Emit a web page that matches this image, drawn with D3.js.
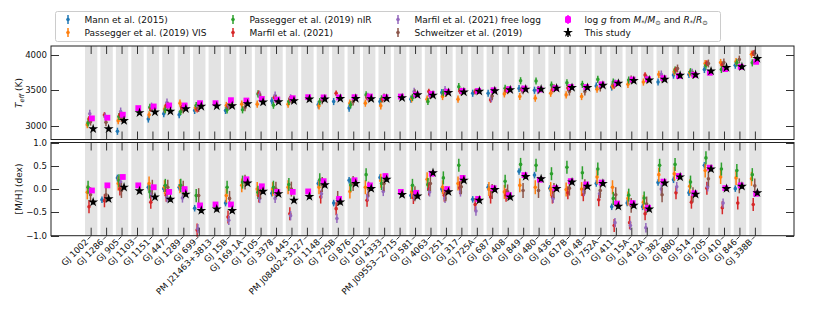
<!DOCTYPE html>
<html>
<head>
<meta charset="utf-8">
<script src="https://cdn.jsdelivr.net/npm/d3@7"></script>
<style>
  body { margin: 0; background: #fff; }
  text { font-family: "DejaVu Sans", sans-serif; fill: #111; }
</style>
</head>
<body>
<div id="plot"></div>
<script>
// stars, ordered as in the figure
const stars = ["GJ 1002","GJ 1286","GJ 905","GJ 1103","GJ 1151","GJ 447","GJ 1289","GJ 699","PM J21463+3813","GJ 15B",
  "GJ 169.1A","GJ 1105","GJ 3378","GJ 445","PM J08402+3127","GJ 1148","GJ 725B","GJ 876","GJ 1012","GJ 4333",
  "PM J09553\u22122715","GJ 581","GJ 4063","GJ 251","GJ 317","GJ 725A","GJ 687","GJ 408","GJ 849","GJ 480",
  "GJ 436","GJ 617B","GJ 48","GJ 752A","GJ 411","GJ 15A","GJ 412A","GJ 382","GJ 880","GJ 514",
  "GJ 205","GJ 410","GJ 846","GJ 338B"];

// Teff (K)
const teffMann = [null,null,2925,null,3097,3171,3157,3217,null,3217, null,null,3351,null,null,3296,3342,3250,null,3342,
  null,3375,null,3467,null,3458,3458,null,3525,3500, null,null,null,3560,3545,null,null,3615,3712,3720, 3791,null,3851,null];
const teffPVis = [3018,null,3074,null,3157,3236,3319,3250,null,3287, 3305,3305,null,3305,null,3282,null,3319,3319,3282,
  null,3380,3375,3412,3375,null,null,3449,3412,3389, 3458,3435,3412,3514,3560,3583,3615,3722,3760,3740, 3875,3889,3903,4004];
const teffPNir = [3042,null,3133,null,3260,3226,3204,3287,null,3226, 3226,3449,3290,3342,null,3342,null,3296,3435,3380,
  null,3400,3342,3467,3550,null,null,3528,3633,3630, 3573,3605,3583,3652,3615,3643,null,null,3782,3760, 3851,3791,3884,3884];
const teffMarfil = [3100,3153,3157,null,3240,3290,3260,3230,null,3280, null,3458,3400,3380,null,null,3458,null,3400,3370,
  null,null,3481,null,3490,3480,3365,3500,3510,null, 3510,3530,null,null,3560,null,3712,null,3790,null, 3880,3860,null,4020];
const teffMarfilFree = [3171,3130,3203,null,3272,3329,null,3280,null,3290, null,3435,3426,3389,null,null,null,null,3410,null,
  null,3481,3430,3504,null,null,3389,null,3510,3500, null,null,null,null,3597,null,null,3722,null,3745, null,null,null,null];
const teffSchw = [3060,3050,3110,null,3250,3280,3230,3250,null,3295, 3260,3400,3380,3370,null,3360,null,3340,3390,3400,
  null,3458,3435,3460,3480,null,3420,3500,3500,3505, 3528,3481,3481,3537,null,3650,3660,3660,3805,3717, 3875,3889,3930,4014];
const teffLogg = [3106,3115,3157,3250,3273,3287,3287,3319,3319,3361, 3356,3379,3370,3389,3403,3400,3400,3403,3412,3403,
  3412,3440,3450,3480,3490,3490,3500,3514,3525,3510, 3530,3545,3545,3583,3600,3650,3655,3670,3700,3715, 3745,3796,3828,3898];
const teffThis = [2958,2958,3074,3185,3194,3204,3240,3273,3278,3282, 3310,3333,3338,3351,3375,3375,3384,3384,3380,3384,
  3393,3435,3430,3467,3475,3485,3490,3505,3514,3514, 3528,3537,3537,3569,3597,3634,3643,3652,3708,3717, 3768,3819,3828,3944];

// [M/H] (dex)
const mhMann = [null,-0.23,0.24,null,0.04,0.01,0.04,-0.41,null,-0.30, null,null,-0.09,null,null,0.12,-0.30,0.19,null,0.25,
  null,-0.14,null,0.00,null,-0.22,0.04,null,0.38,0.30, 0.02,null,null,0.12,-0.38,-0.30,-0.38,0.14,0.20,-0.08, 0.51,null,0.01,null];
const mhPVis = [-0.07,null,0.12,null,0.12,0.04,0.06,null,null,-0.14, 0.08,0.00,0.00,0.04,null,0.04,null,-0.05,0.04,0.18,
  null,-0.06,0.21,0.04,0.12,null,0.00,-0.06,0.08,0.04, 0.00,-0.01,0.00,0.26,0.04,-0.20,-0.28,0.31,0.33,0.06, 0.40,0.26,0.24,0.22];
const mhPNir = [0.04,null,0.18,null,-0.06,0.08,0.08,-0.14,null,0.04, 0.15,-0.07,0.04,0.10,null,0.20,null,0.09,0.31,0.12,
  null,0.08,0.10,0.24,0.51,null,null,0.17,0.53,0.51, 0.33,0.47,0.35,0.43,-0.20,-0.13,-0.19,0.51,0.53,0.15, 0.67,0.43,0.40,0.31];
const mhMarfil = [-0.38,-0.25,0.00,null,-0.28,-0.13,null,-0.88,null,-0.60, null,-0.15,null,-0.53,null,-0.17,-0.42,null,-0.24,null,
  null,-0.18,0.00,-0.13,0.03,-0.33,-0.17,-0.13,null,null, -0.17,-0.08,-0.12,-0.23,-0.78,-0.72,-0.53,null,-0.08,-0.28, 0.02,-0.40,-0.30,-0.33];
const mhMarfilFree = [null,null,0.15,null,-0.10,-0.18,-0.19,-0.85,null,-0.67, null,-0.20,-0.20,-0.57,null,-0.10,-0.63,null,-0.15,-0.05,
  null,-0.15,-0.06,-0.20,-0.06,-0.47,null,null,null,null, -0.20,null,-0.05,-0.10,-0.72,-0.78,-0.83,0.00,0.05,null, 0.05,-0.30,null,null];
const mhSchw = [-0.12,-0.12,-0.03,null,0.04,0.04,0.02,-0.14,null,-0.20, 0.15,-0.05,0.00,0.00,null,0.10,-0.20,0.12,0.00,0.12,
  null,-0.10,0.12,-0.10,0.05,null,-0.05,-0.06,-0.03,-0.03, -0.03,0.02,0.05,-0.03,-0.12,-0.35,-0.32,-0.12,null,-0.12, 0.22,null,0.07,0.07];
const mhLogg = [-0.03,0.08,0.26,0.08,0.04,-0.06,0.00,-0.35,-0.33,-0.33, 0.21,0.06,-0.06,-0.06,-0.05,0.17,-0.21,0.19,0.08,0.28,
  -0.06,-0.08,0.33,0.00,0.24,-0.21,0.02,-0.13,0.30,0.20, 0.02,0.17,0.10,0.14,-0.31,-0.30,-0.40,0.16,0.28,-0.09, 0.46,0.02,0.08,-0.10];
const mhThis = [-0.28,-0.21,0.04,-0.04,-0.17,-0.22,-0.11,-0.46,-0.43,-0.46, 0.13,-0.05,-0.10,-0.24,-0.16,0.09,-0.28,0.12,0.01,0.21,
  -0.12,-0.15,0.35,-0.06,0.19,-0.24,-0.01,-0.17,0.27,0.22, 0.01,0.15,0.06,0.12,-0.37,-0.35,-0.43,0.13,0.26,-0.11, 0.43,0.01,0.06,-0.08];

// typical uncertainties per source (Teff K, [M/H] dex)
const teffErr = [50, 50, 50, 40, 55, 55, 15, 20];
const mhErr = [0.07, 0.15, 0.14, 0.14, 0.10, 0.16, 0.05, 0.05];

const labels = ["Mann et al. (2015)", "Passegger et al. (2019) VIS", "Passegger et al. (2019) nIR", "Marfil et al. (2021)",
  "Marfil et al. (2021) free logg", "Schweitzer et al. (2019)", "logg", "This study"];
const colors = ["#1f77b4", "#ff7f0e", "#2ca02c", "#d62728", "#9467bd", "#8c564b", "#ff00ff", "#000000"];
const offsets = [-0.3, -0.25, -0.2, -0.14, -0.09, -0.04, 0.05, 0.13];

const teffSeries = [teffMann, teffPVis, teffPNir, teffMarfil, teffMarfilFree, teffSchw, teffLogg, teffThis];
const mhSeries = [mhMann, mhPVis, mhPNir, mhMarfil, mhMarfilFree, mhSchw, mhLogg, mhThis];

const svg = d3.select("#plot").append("svg").attr("width", 830).attr("height", 311);

const x = d3.scaleLinear().domain([-2.6, 45.5]).range([51, 794]);
const yT = d3.scaleLinear().domain([2810, 4120]).range([139.5, 46]);
const yM = d3.scaleLinear().domain([-1, 1]).range([235.7, 142.5]);

const panels = [
  { y: yT, top: 46, bottom: 139.5, series: teffSeries, err: teffErr, ticks: [3000, 3500, 4000], fmt: d3.format("d") },
  { y: yM, top: 142.5, bottom: 235.7, series: mhSeries, err: mhErr, ticks: [-1, -0.5, 0, 0.5, 1], fmt: d3.format(".1f") }
];

const idx = d3.range(stars.length);
const star = d3.symbol().type(d3.symbolStar).size(30);

panels.forEach(p => {
  const g = svg.append("g");
  // grey bands
  g.selectAll(".band").data(idx).join("rect")
    .attr("x", i => x(i - 0.4)).attr("width", x(0.4) - x(-0.4))
    .attr("y", p.top).attr("height", p.bottom - p.top)
    .attr("fill", "#e3e3e3");

  p.series.forEach((vals, k) => {
    const pts = vals.map((v, i) => ({ i, v })).filter(d => d.v != null);
    const e = p.err[k];
    const sg = g.append("g");
    sg.selectAll("line").data(pts).join("line")
      .attr("x1", d => x(d.i + offsets[k])).attr("x2", d => x(d.i + offsets[k]))
      .attr("y1", d => p.y(d.v - e)).attr("y2", d => p.y(d.v + e))
      .attr("stroke", colors[k]).attr("stroke-width", 1.5);
    if (k < 6) {
      sg.selectAll("circle").data(pts).join("circle")
        .attr("cx", d => x(d.i + offsets[k])).attr("cy", d => p.y(d.v))
        .attr("r", 1.8).attr("fill", colors[k]);
    } else if (k === 6) {
      sg.selectAll("rect").data(pts).join("rect")
        .attr("x", d => x(d.i + offsets[k]) - 2.9).attr("y", d => p.y(d.v) - 2.9)
        .attr("width", 5.8).attr("height", 5.8).attr("fill", colors[k]);
    } else {
      sg.selectAll("path").data(pts).join("path")
        .attr("transform", d => `translate(${x(d.i + offsets[k])},${p.y(d.v)})`)
        .attr("d", star).attr("fill", "#000");
    }
  });

  // x ticks, pointing in, top and bottom
  g.selectAll(".xt").data(idx).join("line")
    .attr("x1", i => x(i)).attr("x2", i => x(i)).attr("y1", p.top).attr("y2", p.top + 8)
    .attr("stroke", "#333").attr("stroke-width", 1);
  g.selectAll(".xb").data(idx).join("line")
    .attr("x1", i => x(i)).attr("x2", i => x(i)).attr("y1", p.bottom - 8).attr("y2", p.bottom)
    .attr("stroke", "#333").attr("stroke-width", 1);

  // y ticks, both sides
  p.ticks.forEach(t => {
    const yy = Math.round(p.y(t)) + 0.5;
    g.append("line").attr("x1", 51).attr("x2", 59).attr("y1", yy).attr("y2", yy).attr("stroke", "#333");
    g.append("line").attr("x1", 786).attr("x2", 794).attr("y1", yy).attr("y2", yy).attr("stroke", "#333");
    g.append("text").attr("x", 47).attr("y", p.y(t)).attr("dy", "0.35em")
      .attr("text-anchor", "end").attr("font-size", 8.6).text(t === 0 ? "0.0" : p.fmt(t).replace("-", "\u2212"));
  });

  g.append("rect").attr("x", 51).attr("y", p.top).attr("width", 743).attr("height", p.bottom - p.top)
    .attr("fill", "none").attr("stroke", "#222").attr("stroke-width", 1);
});

// star names under the lower panel
const xl = svg.append("g");
idx.forEach(i => {
  const tx = x(i);
  xl.append("line").attr("x1", tx - 0.5).attr("y1", 236.5).attr("x2", tx - 3.5).attr("y2", 239.5)
    .attr("stroke", "#333");
  xl.append("text")
    .attr("transform", `translate(${tx - 4.5},${240.5}) rotate(-45)`)
    .attr("text-anchor", "end").attr("dy", "0.35em").attr("font-size", 8.6)
    .text(stars[i]);
});

// axis titles
const tl = svg.append("text").attr("transform", "translate(22,93) rotate(-90)")
  .attr("text-anchor", "middle").attr("font-size", 9);
tl.append("tspan").attr("font-style", "italic").text("T");
tl.append("tspan").attr("font-style", "italic").attr("font-size", 6.5).attr("dy", 2).text("eff");
tl.append("tspan").attr("dy", -2).text(" (K)");

svg.append("text").attr("transform", "translate(22,189) rotate(-90)")
  .attr("text-anchor", "middle").attr("font-size", 9).text("[M/H] (dex)");

// legend
const lg = svg.append("g");
lg.append("rect").attr("x", 55.5).attr("y", 11.5).attr("width", 665).attr("height", 30).attr("rx", 2)
  .attr("fill", "#fff").attr("stroke", "#ccc");
const colX = [68, 233, 398, 568];
const rowY = [19.5, 32.5];
labels.forEach((lab, k) => {
  const mx = colX[Math.floor(k / 2)], my = rowY[k % 2];
  lg.append("line").attr("x1", mx).attr("x2", mx).attr("y1", my - 4.5).attr("y2", my + 4.5)
    .attr("stroke", colors[k]).attr("stroke-width", 1.5);
  if (k < 6) lg.append("circle").attr("cx", mx).attr("cy", my).attr("r", 1.8).attr("fill", colors[k]);
  else if (k === 6) lg.append("rect").attr("x", mx - 3).attr("y", my - 3.5).attr("width", 6).attr("height", 7)
    .attr("rx", 1.5).attr("fill", colors[k]);
  else lg.append("path").attr("transform", `translate(${mx},${my})`).attr("d", star).attr("fill", "#000");

  const t = lg.append("text").attr("x", mx + 16.5).attr("y", my).attr("dy", "0.35em").attr("font-size", 9);
  if (k === 6) {
    t.append("tspan").text("log ");
    t.append("tspan").attr("font-style", "italic").text("g");
    t.append("tspan").text(" from ");
    t.append("tspan").attr("font-style", "italic").text("M");
    t.append("tspan").attr("font-size", 6.5).attr("dy", 2).text("*");
    t.append("tspan").attr("dy", -2).text("/");
    t.append("tspan").attr("font-style", "italic").text("M");
    t.append("tspan").attr("font-size", 6.5).attr("dy", 2).text("\u2299");
    t.append("tspan").attr("dy", -2).text(" and ");
    t.append("tspan").attr("font-style", "italic").text("R");
    t.append("tspan").attr("font-size", 6.5).attr("dy", 2).text("*");
    t.append("tspan").attr("dy", -2).text("/");
    t.append("tspan").attr("font-style", "italic").text("R");
    t.append("tspan").attr("font-size", 6.5).attr("dy", 2).text("\u2299");
  } else {
    t.text(lab);
  }
});
</script>
</body>
</html>
